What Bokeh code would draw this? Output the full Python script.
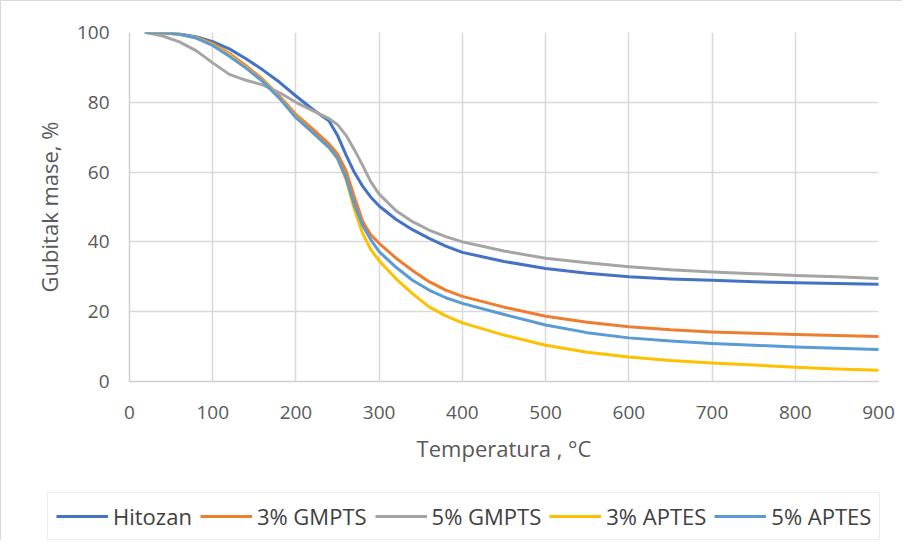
from bokeh.plotting import figure
from bokeh.models import Range1d, Legend, LegendItem, FixedTicker
from bokeh.embed import file_html
from bokeh.resources import INLINE

# Temperature (°C)
T = [20, 40, 60, 80, 100, 120, 140, 160, 180, 200, 220, 240, 250, 260, 270, 280, 290,
     300, 320, 340, 360, 380, 400, 450, 500, 550, 600, 650, 700, 750, 800, 850, 900]

hitozan = [100, 99.9, 99.6, 98.8, 97.4, 95.3, 92.5, 89.3, 85.8, 81.8, 78.0, 74.6, 70.5,
           65.0, 60.0, 56.0, 52.8, 50.3, 46.5, 43.5, 41.0, 38.8, 37.0, 34.4, 32.4, 31.0,
           30.0, 29.4, 29.0, 28.6, 28.3, 28.1, 27.9]
gmpts3 = [100, 99.9, 99.5, 98.6, 96.8, 94.0, 90.5, 86.6, 81.8, 76.5, 72.4, 68.0, 65.2,
          60.5, 53.0, 46.0, 42.0, 39.6, 35.4, 31.8, 28.6, 26.2, 24.4, 21.3, 18.7, 17.0,
          15.7, 14.8, 14.2, 13.8, 13.5, 13.2, 12.9]
gmpts5 = [100, 99.0, 97.3, 94.8, 91.3, 88.0, 86.3, 85.0, 82.8, 80.0, 77.6, 75.3, 73.6,
          70.6, 66.5, 62.0, 57.2, 53.7, 49.0, 45.8, 43.4, 41.5, 40.0, 37.4, 35.3, 34.0,
          32.9, 32.0, 31.4, 30.9, 30.4, 30.0, 29.5]
aptes3 = [100, 99.9, 99.5, 98.5, 96.5, 93.6, 90.0, 86.2, 81.3, 75.8, 71.3, 66.9, 63.8,
          58.0, 49.5, 42.5, 37.8, 34.6, 29.5, 25.2, 21.4, 18.8, 16.8, 13.3, 10.4, 8.4,
          7.0, 6.0, 5.3, 4.7, 4.1, 3.6, 3.2]
aptes5 = [100, 99.9, 99.5, 98.4, 96.3, 93.2, 89.8, 86.0, 81.2, 75.6, 71.4, 67.0, 64.0,
          58.5, 50.8, 44.8, 40.6, 37.2, 32.8, 29.0, 26.2, 24.0, 22.4, 19.2, 16.2, 14.0,
          12.5, 11.6, 10.9, 10.4, 9.9, 9.5, 9.2]

series_names = ["Hitozan", "3% GMPTS", "5% GMPTS", "3% APTES", "5% APTES"]
series_values = [hitozan, gmpts3, gmpts5, aptes3, aptes5]
colors = ["#4472C4", "#ED7D31", "#A5A5A5", "#FFC000", "#5B9BD5"]

x_ticks = [0, 100, 200, 300, 400, 500, 600, 700, 800, 900]
y_ticks = [0, 20, 40, 60, 80, 100]

FONT = "Open Sans"
BORDER = "1px solid #d9d9d9"

p = figure(width=902, height=490, output_backend="svg", toolbar_location=None,
           x_range=Range1d(0, 900), y_range=Range1d(0, 100),
           min_border_left=128, min_border_right=25, min_border_top=31,
           min_border_bottom=110,
           styles={"border-left": BORDER, "border-top": BORDER})
p.outline_line_color = None

for ax in (p.xaxis[0], p.yaxis[0]):
    ax.major_tick_out = 0
    ax.major_tick_in = 0
    ax.minor_tick_out = 0
    ax.minor_tick_in = 0
    ax.axis_line_color = "#d0d0d0"
    ax.axis_line_width = 1.5
    ax.major_label_text_font = FONT
    ax.major_label_text_font_size = "19px"
    ax.major_label_text_color = "#595959"
    ax.axis_label_text_font = FONT
    ax.axis_label_text_font_size = "22px"
    ax.axis_label_text_color = "#595959"
    ax.axis_label_text_font_style = "normal"

p.xaxis.ticker = FixedTicker(ticks=x_ticks)
p.yaxis.ticker = FixedTicker(ticks=y_ticks)
p.xaxis.axis_label = "Temperatura , °C"
p.yaxis.axis_label = "Gubitak mase, %"
p.xaxis.major_label_standoff = 24
p.yaxis.major_label_standoff = 20
p.xaxis.axis_label_standoff = 11
p.yaxis.axis_label_standoff = 10

p.xgrid.ticker = FixedTicker(ticks=x_ticks)
p.ygrid.ticker = FixedTicker(ticks=y_ticks)
p.grid.grid_line_color = "#d9d9d9"
p.grid.grid_line_width = 1.5

for vals, col in zip(series_values, colors):
    p.line(T, vals, line_color=col, line_width=3, line_join="round", line_cap="round")

# Legend strip below the chart (separate root, its lines lie outside its view)
q = figure(width=902, height=50, output_backend="svg", toolbar_location=None,
           x_range=Range1d(0, 900), y_range=Range1d(200, 300),
           min_border_left=0, min_border_right=0, min_border_top=0, min_border_bottom=0,
           x_axis_location=None, y_axis_location=None,
           styles={"border-left": BORDER})
q.outline_line_color = None
q.grid.visible = False

items = []
for name, vals, col in zip(series_names, series_values, colors):
    r = q.line(T, vals, line_color=col, line_width=3)
    items.append(LegendItem(label=name, renderers=[r]))

legend = Legend(items=items, orientation="horizontal", location=(46, 0),
                glyph_width=52, glyph_height=20, label_standoff=5, spacing=8,
                padding=8, margin=0, border_line_color="#d9d9d9", border_line_width=1.5,
                label_text_font=FONT, label_text_font_size="22px",
                label_text_color="#404040", background_fill_color="white")
q.add_layout(legend, "center")

open("out.html", "w").write(file_html([p, q], INLINE))
